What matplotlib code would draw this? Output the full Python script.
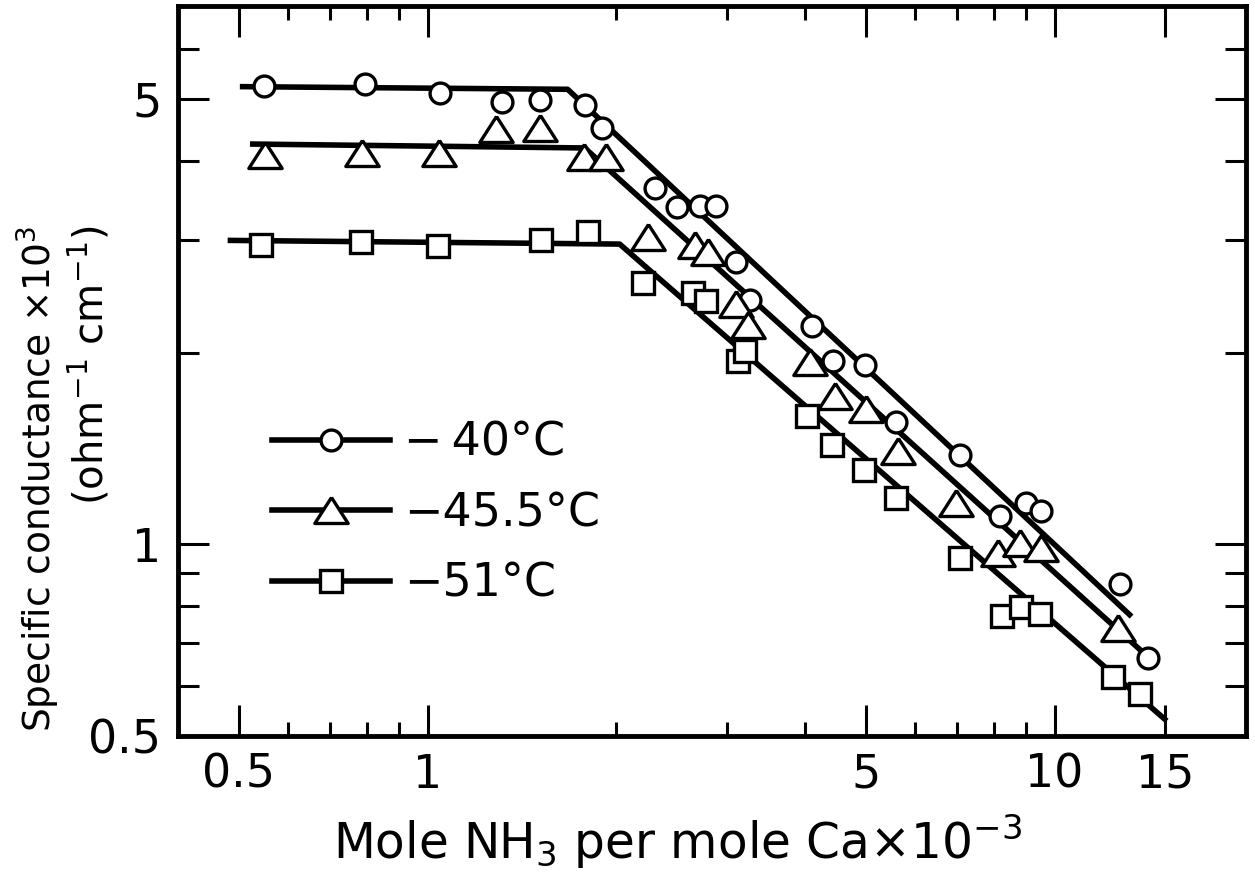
import matplotlib
matplotlib.use("Agg")
import matplotlib.pyplot as plt
from matplotlib.lines import Line2D
from matplotlib.ticker import FixedLocator, NullFormatter, FixedFormatter

# ---------------- data ----------------
x_m40 = [0.548, 0.796, 1.046, 1.315, 1.513, 1.781, 1.901, 2.303, 2.500, 2.718, 2.889,
         3.110, 3.265, 4.097, 4.434, 4.982, 5.595, 7.061, 8.178, 9.020, 9.531, 12.70, 14.10]
y_m40 = [5.24, 5.28, 5.12, 4.94, 4.98, 4.89, 4.50, 3.62, 3.39, 3.40, 3.40,
         2.77, 2.42, 2.20, 1.94, 1.915, 1.555, 1.38, 1.107, 1.162, 1.128, 0.866, 0.664]

x_m455 = [0.551, 0.787, 1.043, 1.288, 1.510, 1.775, 1.924, 2.247, 2.668, 2.802, 3.110,
          3.245, 4.071, 4.462, 5.012, 5.628, 6.976, 8.126, 8.823, 9.531, 12.63]
y_m455 = [4.09, 4.11, 4.12, 4.49, 4.50, 4.05, 4.05, 3.04, 2.95, 2.88, 2.38,
          2.21, 1.93, 1.71, 1.63, 1.40, 1.16, 0.970, 1.006, 0.988, 0.740]

x_m51 = [0.542, 0.782, 1.039, 1.519, 1.803, 2.207, 2.651, 2.785, 3.128, 3.206,
         4.022, 4.413, 4.963, 5.595, 7.061, 8.259, 8.856, 9.471, 12.40, 13.68]
y_m51 = [2.95, 2.98, 2.94, 3.00, 3.09, 2.57, 2.48, 2.41, 1.94, 2.01,
         1.59, 1.43, 1.31, 1.18, 0.953, 0.772, 0.796, 0.777, 0.618, 0.582]

# fitted broken lines (start, knee, end)
fit_m40_x = [0.502, 1.673, 13.27]
fit_m40_y = [5.23, 5.18, 0.770]
fit_m455_x = [0.521, 1.781, 13.93]
fit_m455_y = [4.25, 4.19, 0.6725]
fit_m51_x = [0.480, 2.025, 15.10]
fit_m51_y = [3.00, 2.96, 0.528]

labels = ["\u2212\u200940\u00b0C", "\u221245.5\u00b0C", "\u221251\u00b0C"]

x_major = [0.5, 1, 5, 10, 15]
x_major_labels = ["0.5", "1", "5", "10", "15"]
x_minor = [0.6, 0.7, 0.8, 0.9, 2, 3, 4, 6, 7, 8, 9]
y_major = [0.5, 1, 5]
y_major_labels = ["0.5", "1", "5"]
y_minor = [0.6, 0.7, 0.8, 0.9, 2, 3, 4, 6]

# ---------------- styling ----------------
plt.rcParams['font.family'] = ['DejaVu Sans']
plt.rcParams['mathtext.fontset'] = 'dejavusans'
FS = 33
LW = 4.0
MEW = 2.4
tri = [(0, 0.78), (-1, -0.78), (1, -0.78), (0, 0.78)]

fig = plt.figure(figsize=(12.55, 8.72), dpi=100)
ax = fig.add_axes([178/1255, 1 - 736/872, (1246-178)/1255, (736-6)/872])
ax.set_xscale('log')
ax.set_yscale('log')
ax.set_xlim(0.4, 20.2)
ax.set_ylim(0.5, 7.0)

series = [
    (fit_m40_x, fit_m40_y, x_m40, y_m40, 'o', 15),
    (fit_m455_x, fit_m455_y, x_m455, y_m455, tri, 24),
    (fit_m51_x, fit_m51_y, x_m51, y_m51, 's', 15.5),
]
handles = []
for (fx, fy, xs, ys, mk, ms), lab in zip(series, labels):
    ax.plot(fx, fy, color='black', lw=LW, solid_capstyle='butt', zorder=2)
    ax.plot(xs, ys, linestyle='none', marker=mk, ms=ms, mfc='white',
            mec='black', mew=MEW, zorder=3)
    handles.append(Line2D([], [], color='black', lw=LW, marker=mk, ms=ms,
                          mfc='white', mec='black', mew=MEW))

leg = ax.legend(handles, labels, loc='upper left', bbox_to_anchor=(0.088, 0.432),
                frameon=False, fontsize=FS, handlelength=2.58, handletextpad=0.3,
                labelspacing=0.56, borderpad=0, borderaxespad=0, numpoints=1)

# ticks
ax.xaxis.set_major_locator(FixedLocator(x_major))
ax.xaxis.set_major_formatter(FixedFormatter(x_major_labels))
ax.xaxis.set_minor_locator(FixedLocator(x_minor))
ax.xaxis.set_minor_formatter(NullFormatter())
ax.yaxis.set_major_locator(FixedLocator(y_major))
ax.yaxis.set_major_formatter(FixedFormatter(y_major_labels))
ax.yaxis.set_minor_locator(FixedLocator(y_minor))
ax.yaxis.set_minor_formatter(NullFormatter())

ax.tick_params(which='both', direction='in', top=True, right=True, width=2.2,
               labelsize=FS, color='black')
ax.tick_params(which='major', length=22)
ax.tick_params(axis='x', which='minor', length=10)
ax.tick_params(axis='y', which='minor', length=15)
ax.tick_params(axis='x', which='major', pad=12)
ax.tick_params(axis='y', which='major', pad=12)

for sp in ax.spines.values():
    sp.set_linewidth(3.5)

fig.text(38/1255, 1 - 226/872, r"Specific conductance $\times$10$^3$",
         rotation=90, ha='center', va='top', fontsize=27)
fig.text(90/1255, 1 - 226/872, r"(ohm$^{-1}$ cm$^{-1}$)",
         rotation=90, ha='center', va='top', fontsize=29)
fig.text(678/1255, 1 - 842/872, r"Mole NH$_3$ per mole Ca$\times$10$^{-3}$",
         ha='center', va='center', fontsize=35)

fig.savefig("out.png", dpi=100, facecolor='white')
